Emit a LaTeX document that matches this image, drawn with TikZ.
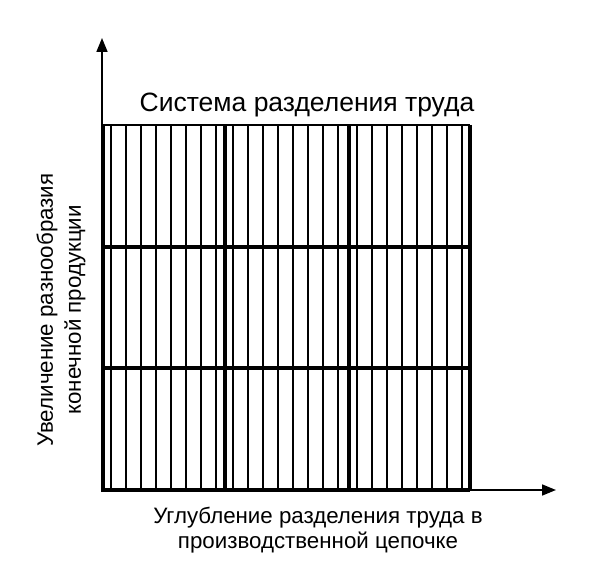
\documentclass[tikz,border=0pt]{standalone}
\usepackage{fontspec}
\setmainfont{Liberation Sans}
\usetikzlibrary{arrows.meta, positioning}
\definecolor{inkblack}{HTML}{000000}

\begin{document}
\begin{tikzpicture}[x=1pt, y=-1pt,
  thinbar/.style={inkblack, line width=1.6pt},
  thickbar/.style={inkblack, line width=3.6pt},
  axisline/.style={inkblack, line width=1.7pt, -{Triangle[length=14pt, width=11pt]}},
  label/.style={inkblack, inner sep=0pt, align=center}]
  % Page frame
  \fill[white] (0,0) rectangle (591,569);
  \useasboundingbox (0,0) rectangle (591,569);

  % Axis ends
  \coordinate (origin) at (102,490);
  \coordinate (ytop) at (102,38);
  \coordinate (xend) at (556,490);

  % Thin columns (three blocks of eight)
  \foreach \b in {103,225,349} {
    \foreach \k in {0,...,7} {
      \draw[thinbar] (\b+8+15*\k, 125) -- (\b+8+15*\k, 490);
    }
  }

  % Block and row borders
  \draw[thickbar] (225,125) -- (225,490);
  \draw[thickbar] (349,125) -- (349,490);
  \draw[thickbar] (103,247) -- (470,247);
  \draw[thickbar] (103,368) -- (470,368);
  \draw[inkblack, line width=2.6pt] (103,125) -- (470,125);
  \draw[thickbar] (470,125) -- (470,490);
  \draw[thickbar] (103,125) -- (103,490) -- (470,490);

  % Axes
  \draw[axisline] (origin) -- (ytop);
  \draw[axisline] (origin) -- (xend);

  % Labels
  \node[label, anchor=base, font=\fontsize{26.5}{26.5}\selectfont] (title) at (307,112) {Система разделения труда};
  \node[label, anchor=north, font=\fontsize{22.3}{25}\selectfont] (xlabel) at (318,507) {Углубление разделения труда в\\производственной цепочке};
  \node[label, rotate=90, font=\fontsize{22.3}{28}\selectfont] (ylabel) at (61,310) {Увеличение разнообразия\\конечной продукции};
\end{tikzpicture}
\end{document}
